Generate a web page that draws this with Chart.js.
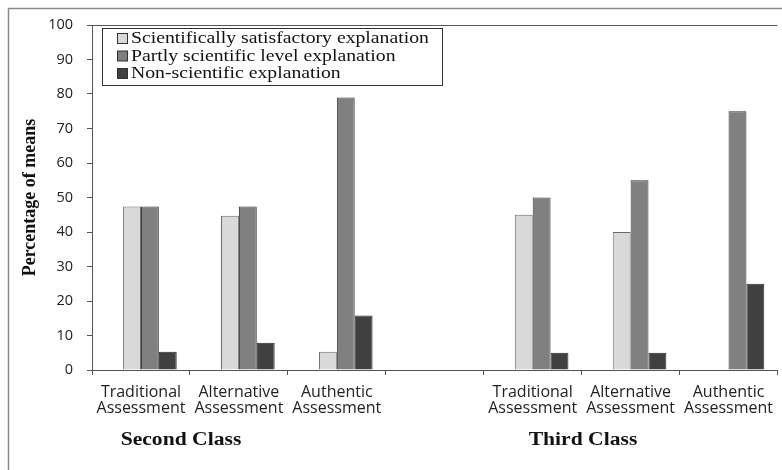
<!DOCTYPE html>
<html>
<head>
<meta charset="utf-8">
<script src="https://cdn.jsdelivr.net/npm/chart.js@4/dist/chart.umd.min.js"></script>
<style>
  html, body { margin: 0; padding: 0; background: #fff; }
  #wrap { width: 782px; height: 470px; position: relative; overflow: hidden; }
</style>
</head>
<body>
<div id="wrap"><canvas id="chart" width="782" height="470"></canvas></div>
<script>
// DATA
const categories = [
  ['Traditional', 'Assessment'],
  ['Alternative', 'Assessment'],
  ['Authentic', 'Assessment'],
  '',
  ['Traditional', 'Assessment'],
  ['Alternative', 'Assessment'],
  ['Authentic', 'Assessment']
];
const seriesNames = [
  'Scientifically satisfactory explanation',
  'Partly scientific level explanation',
  'Non-scientific explanation'
];
const satisfactory = [47.4, 44.7, 5.3, null, 45, 40, 0];
const partly = [47.4, 47.4, 79, null, 50, 55, 75];
const nonScientific = [5.3, 7.9, 15.8, null, 5, 5, 25];
// empty first series in the original sheet, keeps the groups shifted right
const emptySeries = [null, null, null, null, null, null, null];
const groupNames = ['Second Class', 'Third Class'];

const fills = ['#d9d9d9', '#808080', '#404040'];
const edges = ['#6a6a6a', '#333333', '#2a2a2a'];

// FUNCTIONS
function stretchedText(ctx, text, x, y, sx, align) {
  ctx.save();
  ctx.translate(x, y);
  ctx.scale(sx, 1);
  ctx.textAlign = align;
  ctx.fillText(text, 0, 0);
  ctx.restore();
}

const framePlugin = {
  id: 'frame',
  afterDraw(chart) {
    const ctx = chart.ctx;
    const area = chart.chartArea;
    ctx.save();
    // outer chart border
    ctx.strokeStyle = '#8a8a8a';
    ctx.lineWidth = 1.5;
    ctx.beginPath();
    ctx.moveTo(8.5, 470);
    ctx.lineTo(8.5, 8.5);
    ctx.lineTo(782, 8.5);
    ctx.stroke();
    // plot area top edge
    ctx.strokeStyle = '#555';
    ctx.lineWidth = 1;
    ctx.beginPath();
    ctx.moveTo(area.left, Math.round(area.top) + 0.5);
    ctx.lineTo(area.right, Math.round(area.top) + 0.5);
    ctx.stroke();

    // legend box
    ctx.fillStyle = '#fff';
    ctx.fillRect(102.5, 28.5, 340, 57);
    ctx.strokeStyle = '#333';
    ctx.strokeRect(102.5, 28.5, 340, 57);
    const rows = [38, 55.5, 73];
    ctx.font = '17px "Liberation Serif"';
    ctx.textBaseline = 'middle';
    seriesNames.forEach((name, i) => {
      ctx.fillStyle = fills[i];
      ctx.fillRect(117.5, rows[i] - 4.5, 10, 10);
      ctx.strokeStyle = '#333';
      ctx.strokeRect(117.5, rows[i] - 4.5, 10, 10);
      ctx.fillStyle = '#111';
      stretchedText(ctx, name, 131, rows[i] + 1, 1.16, 'left');
    });

    // group captions under the axis
    ctx.font = 'bold 18px "Liberation Serif"';
    ctx.textBaseline = 'alphabetic';
    ctx.fillStyle = '#111';
    stretchedText(ctx, groupNames[0], 181, 445, 1.2, 'center');
    stretchedText(ctx, groupNames[1], 583, 445, 1.2, 'center');
    ctx.restore();
  }
};

let canvas = document.getElementById('chart');
new Chart(canvas, {
  type: 'bar',
  data: {
    labels: categories,
    datasets: [
      { label: '', data: emptySeries, backgroundColor: '#fff' },
      { label: seriesNames[0], data: satisfactory, backgroundColor: fills[0], borderColor: edges[0], borderWidth: 1 },
      { label: seriesNames[1], data: partly, backgroundColor: fills[1], borderColor: edges[1], borderWidth: 1 },
      { label: seriesNames[2], data: nonScientific, backgroundColor: fills[2], borderColor: edges[2], borderWidth: 1 }
    ]
  },
  options: {
    responsive: false,
    animation: false,
    layout: { padding: { left: 18, top: 25, right: 0, bottom: 0 } },
    datasets: { bar: { categoryPercentage: 0.73, barPercentage: 1, borderSkipped: 'start' } },
    plugins: {
      legend: { display: false },
      tooltip: { enabled: false }
    },
    scales: {
      x: {
        offset: true,
        grid: { offset: true, drawOnChartArea: false, tickLength: 5, color: '#555' },
        border: { color: '#555' },
        ticks: {
          autoSkip: false,
          maxRotation: 0,
          padding: 9,
          color: '#222',
          font: { family: 'Open Sans', size: 16, lineHeight: 1.0 }
        },
        afterFit: s => { s.height = 100; }
      },
      y: {
        min: 0,
        max: 100,
        grid: { drawOnChartArea: false, tickLength: 5, color: '#555' },
        border: { color: '#555' },
        ticks: {
          stepSize: 10,
          padding: 14,
          color: '#222',
          font: { family: 'Open Sans', size: 14.5 }
        },
        title: {
          display: true,
          text: 'Percentage of means',
          color: '#111',
          padding: { top: 2, bottom: 0 },
          font: { family: 'Liberation Serif', size: 18, weight: 'bold' }
        },
        afterFit: s => { s.width = 74; }
      }
    }
  },
  plugins: [framePlugin]
});
</script>
</body>
</html>
